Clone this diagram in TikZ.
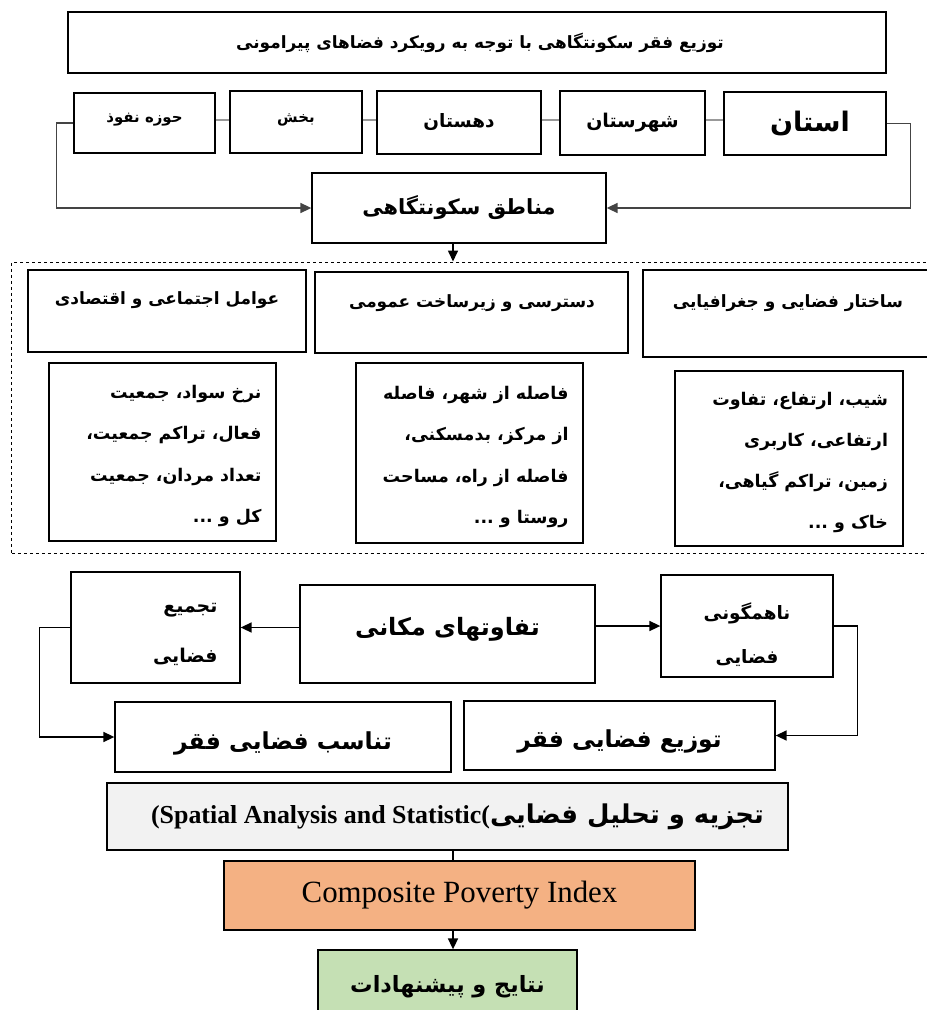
\documentclass[tikz,border=0pt]{standalone}
\usepackage{fontspec}
\usetikzlibrary{arrows.meta}
\TeXXeTstate=1
\newfontfamily\arabicfont[Script=Arabic]{DejaVu Sans}
\newfontfamily\enfont{Liberation Serif}
\newcommand\fa[1]{{\arabicfont\bfseries\beginR #1\endR}}
\newcommand\fz[2]{\fontsize{#1}{#2}\selectfont}
\newcommand\fs[1]{\fontsize{#1}{#1}\selectfont}
\newcommand\mv[2]{\raisebox{#1}[\height][\depth]{#2}}
\newcommand\rblock[3]{\raisebox{#1}[\height][\depth]{\parbox{#2}{\raggedleft #3}}}
\newcommand\cblock[3]{\raisebox{#1}[\height][\depth]{\parbox{#2}{\centering #3}}}
\definecolor{grayfill}{HTML}{F2F2F2}
\definecolor{orangefill}{HTML}{F4B183}
\definecolor{greenfill}{HTML}{C5E0B4}
\definecolor{conn}{HTML}{444444}
\tikzset{
  box/.style={draw=black, line width=1.3bp, inner sep=0pt, align=center},
  rowlink/.style={draw=gray!80, line width=2.2bp},
  arr/.style={draw=conn, line width=1.6bp, -{Triangle[length=11bp,width=10bp]}},
  plain/.style={draw=black, line width=1.6bp},
}
\begin{document}
\begin{tikzpicture}[x=1bp,y=-1bp]
\useasboundingbox (0,0) rectangle (927,1010);
% title
\node[box, minimum width=818bp, minimum height=61bp, font=\fs{17}] (title) at (477,42.5) {\hspace*{6bp}\fa{توزیع فقر سکونتگاهی با توجه به رویکرد فضاهای پیرامونی}};
% row
\node[box, minimum width=141bp, minimum height=60bp, font=\fs{15}] (r1) at (144.5,123) {\mv{3bp}{\fa{حوزه نفوذ}}};
\node[box, minimum width=132bp, minimum height=62bp, font=\fs{15}] (r2) at (296,122) {\mv{2bp}{\fa{بخش}}};
\node[box, minimum width=164bp, minimum height=63bp, font=\fs{18.5}] (r3) at (459,122.5) {\fa{دهستان}};
\node[box, minimum width=145bp, minimum height=64bp, font=\fs{19}] (r4) at (632.5,123) {\fa{شهرستان}};
\node[box, minimum width=162bp, minimum height=63bp, font=\fs{27}] (r5) at (805,123.5) {\hspace*{10bp}\fa{استان}};
\draw[rowlink] (r1.east |- 0,120) -- (r2.west |- 0,120);
\draw[rowlink] (r2.east |- 0,120) -- (r3.west |- 0,120);
\draw[rowlink] (r3.east |- 0,120) -- (r4.west |- 0,120);
\draw[rowlink] (r4.east |- 0,120) -- (r5.west |- 0,120);
% manateq
\node[box, minimum width=294bp, minimum height=70bp, font=\fs{21}] (man) at (459,208) {\fa{مناطق سکونتگاهی}};
\draw[arr] (r1.west) -- ++(-17,0) |- (man.west);
\draw[arr] (r5.east) -- ++(24,0) |- (man.east);
% dashed frame
\node[draw=black, dashed, line width=1bp, minimum width=930bp, minimum height=291bp, inner sep=0pt] (frame) at (477,407.5) {};
\draw[arr, draw=black] (453,0 |- man.south) -- (453,0 |- frame.north);
% headers
\node[box, minimum width=278bp, minimum height=82bp] (h1) at (167,311) {};
\node[box, minimum width=313bp, minimum height=81bp] (h2) at (471.5,312.5) {};
\node[box, minimum width=292bp, minimum height=87bp] (h3) at (789,313.5) {};
\node[font=\fs{17}] (t1) at (167,300) {\fa{عوامل اجتماعی و اقتصادی}};
\node[font=\fs{17}] (t2) at (472,303) {\fa{دسترسی و زیرساخت عمومی}};
\node[font=\fs{17}] (t3) at (788,303) {\fa{ساختار فضایی و جغرافیایی}};
% bodies
\node[box, minimum width=227bp, minimum height=178bp, font={\fz{17.5}{41.5}}] (b1) at (162.5,452) {\rblock{-4bp}{198bp}{%
\fa{نرخ سواد، جمعیت}\\ \fa{فعال، تراکم جمعیت،}\\ \fa{تعداد مردان، جمعیت}\\ \fa{کل و ...}}};
\node[box, minimum width=227bp, minimum height=180bp, font={\fz{17.5}{41.5}}] (b2) at (469.5,453) {\rblock{-4bp}{198bp}{%
\fa{فاصله از شهر، فاصله}\\ \fa{از مرکز، بدمسکنی،}\\ \fa{فاصله از راه، مساحت}\\ \fa{روستا و ...}}};
\node[box, minimum width=228bp, minimum height=175bp, font={\fz{17.5}{41}}] (b3) at (789,458.5) {\rblock{-4bp}{198bp}{%
\fa{شیب، ارتفاع، تفاوت}\\ \fa{ارتفاعی، کاربری}\\ \fa{زمین، تراکم گیاهی،}\\ \fa{خاک و ...}}};
% lower
\node[box, minimum width=295bp, minimum height=98bp, font=\fs{24}] (taf) at (447.5,634) {\mv{5bp}{\fa{تفاوتهای مکانی}}};
\node[box, minimum width=169bp, minimum height=111bp, font={\fz{19}{50}}] (taj) at (155.5,627.5) {\rblock{-7bp}{124bp}{\fa{تجمیع}\\ \fa{فضایی}}};
\node[box, minimum width=172bp, minimum height=102bp, font={\fz{18.5}{44}}] (nah) at (747,626) {\cblock{-9bp}{160bp}{\fa{ناهمگونی}\\ \fa{فضایی}}};
\draw[arr, draw=black] (taf.west |- taj.east) -- (taj.east);
\draw[arr, draw=black] (taf.east |- nah.west) -- (nah.west);
\node[box, minimum width=336bp, minimum height=70bp, font=\fs{23.5}] (tan) at (283,737) {\mv{-6bp}{\fa{تناسب فضایی فقر}}};
\node[box, minimum width=311bp, minimum height=69bp, font=\fs{23.5}] (toz) at (619.5,735.5) {\mv{-6bp}{\fa{توزیع فضایی فقر}}};
\draw[arr, draw=black] (taj.west) -- ++(-31,0) |- (tan.west);
\draw[arr, draw=black] (nah.east) -- ++(24,0) |- (toz.east);
% bottom chain
\node[box, fill=grayfill, minimum width=681bp, minimum height=67bp, font=\fs{26}] (spa) at (447.5,816.5) {\hspace*{20bp}\beginL{\enfont\bfseries (Spatial Analysis and Statistic(}\fa{تجزیه و تحلیل فضایی}\endL};
\node[box, fill=orangefill, minimum width=471bp, minimum height=69bp, font=\fs{31}] (cpi) at (459.5,895.5) {\enfont Composite Poverty Index};
\node[box, fill=greenfill, minimum width=259bp, minimum height=80bp, font=\fs{22.5}] (nat) at (447.5,990) {\mv{3bp}{\fa{نتایج و پیشنهادات}}};
\draw[plain] (453,0 |- spa.south) -- (453,0 |- cpi.north);
\draw[arr, draw=black] (453,0 |- cpi.south) -- (453,0 |- nat.north);
\end{tikzpicture}
\end{document}
